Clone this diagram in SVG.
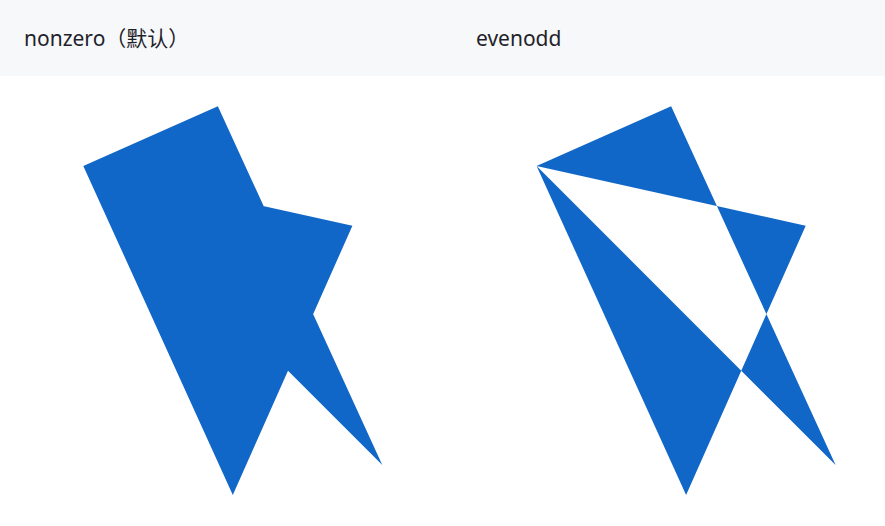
<svg xmlns="http://www.w3.org/2000/svg" width="885" height="526" viewBox="0 0 885 526">
  <defs>
    <style>
      .label { font-family: "Noto Sans", "Noto Sans CJK SC", sans-serif; font-size: 21px; fill: #1f2329; }
      .shape { fill: #1067c7; stroke: none; }
    </style>
    <path id="star" d="M0,20 L45,0 L100,120 L0,20 L90,40 L50,130 Z"/>
  </defs>
  <rect x="0" y="0" width="885" height="526" fill="#ffffff"/>
  <rect x="0" y="0" width="885" height="76" fill="#f7f8fa"/>
  <g id="label-nonzero">
    <text class="label" x="24" y="46">nonzero（默认）</text>
  </g>
  <g id="label-evenodd">
    <text class="label" x="476" y="46">evenodd</text>
  </g>
  <g id="shape-nonzero">
    <use href="#star" class="shape" fill-rule="nonzero" transform="translate(83.3,106.2) scale(2.99)"/>
  </g>
  <g id="shape-evenodd">
    <use href="#star" class="shape" fill-rule="evenodd" transform="translate(536.6,106.2) scale(2.99)"/>
  </g>
</svg>
